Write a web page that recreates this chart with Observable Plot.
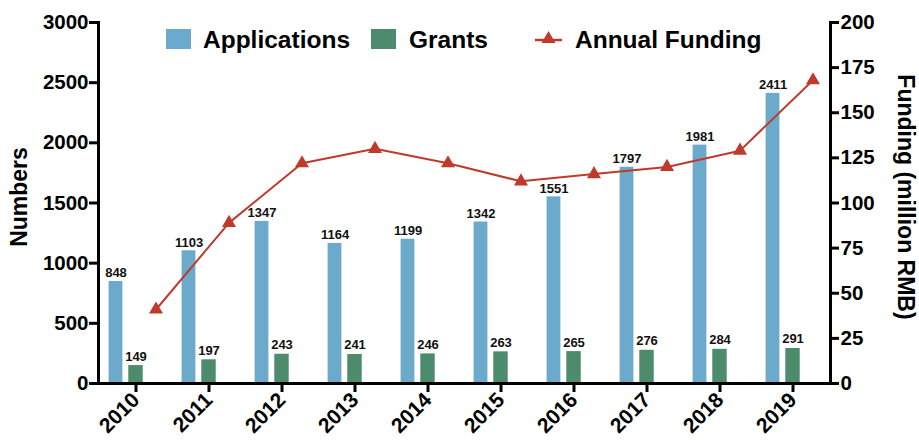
<!DOCTYPE html>
<html>
<head>
<meta charset="utf-8">
<script src="https://cdn.jsdelivr.net/npm/d3@7"></script>
<script src="https://cdn.jsdelivr.net/npm/@observablehq/plot@0.6"></script>
<style>
  html, body { margin: 0; padding: 0; background: #fff; }
  #wrap { position: relative; width: 919px; height: 440px; font-family: "Liberation Sans", Arial, sans-serif; }
  #legend { position: absolute; left: 0; top: 0; pointer-events: none; }
</style>
</head>
<body>
<div id="wrap"></div>
<script>
// ---- data ----
const years = ["2010","2011","2012","2013","2014","2015","2016","2017","2018","2019"];
const applications = [848, 1103, 1347, 1164, 1199, 1342, 1551, 1797, 1981, 2411];
const grants = [149, 197, 243, 241, 246, 263, 265, 276, 284, 291];
const funding = [41, 89, 122, 130, 122, 112, 116, 120, 129, 168]; // million RMB
const leftTicks = [0, 500, 1000, 1500, 2000, 2500, 3000];
const rightTicks = [0, 25, 50, 75, 100, 125, 150, 175, 200];
const seriesNames = ["Applications", "Grants", "Annual Funding"];

// ---- styles ----
const colApps = "#6BAACB";
const colGrants = "#4C8B6C";
const colFund = "#C03A2B";
const k = 3000 / 200; // right axis -> left axis scale factor

const rows = years.map((y, i) => ({year: y, applications: applications[i], grants: grants[i], funding: funding[i], fundingScaled: funding[i] * k}));

const chart = Plot.plot({
  width: 919,
  height: 440,
  marginLeft: 98,
  marginRight: 89,
  marginTop: 22,
  marginBottom: 57,
  style: {fontFamily: "'Liberation Sans', Arial, sans-serif", fontWeight: "bold", color: "#000", background: "#fff"},
  x: {type: "band", domain: years, padding: 0},
  y: {domain: [0, 3000]},
  marks: [
    Plot.barY(rows, {x: "year", y: "applications", fill: colApps, insetLeft: 29.6, insetRight: 29.6, dx: -20}),
    Plot.barY(rows, {x: "year", y: "grants", fill: colGrants, insetLeft: 29.3, insetRight: 29.3}),
    Plot.text(rows, {x: "year", y: "applications", text: d => String(d.applications), dx: -20, dy: -4, lineAnchor: "bottom", fontSize: 13, fontWeight: "bold", fill: "#111"}),
    Plot.text(rows, {x: "year", y: "grants", text: d => String(d.grants), dy: -5, lineAnchor: "bottom", fontSize: 13, fontWeight: "bold", fill: "#111"}),
    Plot.line(rows, {x: "year", y: "fundingScaled", stroke: colFund, strokeWidth: 2, dx: 20}),
    Plot.dot(rows, {x: "year", y: "fundingScaled", symbol: "triangle", r: 5.2, fill: colFund, stroke: "none", dx: 20}),
    Plot.ruleY([0], {strokeWidth: 3, stroke: "#000"}),
    Plot.frame({anchor: "left", strokeWidth: 3, stroke: "#000"}),
    Plot.frame({anchor: "right", strokeWidth: 3, stroke: "#000"}),
    Plot.axisY({anchor: "left", ticks: leftTicks, tickFormat: d => String(d), tickSize: 9, tickPadding: 1, fontSize: 20.5, fontWeight: "bold", strokeWidth: 3, label: null}),
    Plot.axisY({anchor: "right", ticks: rightTicks.map(v => v * k), tickFormat: d => String(Math.round(d / k)), tickSize: 8, tickPadding: 2, fontSize: 20.5, fontWeight: "bold", strokeWidth: 3, label: null}),
    Plot.axisX({anchor: "bottom", tickRotate: -45, tickSize: 9, tickPadding: 4, fontSize: 21, fontWeight: "bold", strokeWidth: 3, label: null}),
    Plot.text(["Numbers"], {frameAnchor: "left", textAnchor: "middle", dx: -79, dy: -6, rotate: -90, fontSize: 23, fontWeight: "bold", fill: "#000"}),
    Plot.text(["Funding (million RMB)"], {frameAnchor: "right", textAnchor: "middle", dx: 75, dy: -6, rotate: 90, fontSize: 23, fontWeight: "bold", fill: "#000"})
  ]
});

const wrap = document.getElementById("wrap");
wrap.appendChild(chart);

// ---- legend (overlay) ----
const ns = "http://www.w3.org/2000/svg";
const leg = document.createElementNS(ns, "svg");
leg.setAttribute("id", "legend");
leg.setAttribute("width", 919);
leg.setAttribute("height", 60);
leg.innerHTML = `
  <g font-family="'Liberation Sans', Arial, sans-serif" font-weight="bold" font-size="24.5" fill="#000">
    <rect x="166" y="29" width="25" height="20" fill="${colApps}"/>
    <text x="203" y="48">${seriesNames[0]}</text>
    <rect x="371" y="29" width="25" height="20" fill="${colGrants}"/>
    <text x="409" y="48">${seriesNames[1]}</text>
    <line x1="535" y1="40" x2="562" y2="40" stroke="${colFund}" stroke-width="2.5"/>
    <path transform="translate(548.5,39)" d="${d3.symbol(d3.symbolTriangle, Math.PI * 5.2 * 5.2)()}" fill="${colFund}"/>
    <text x="575" y="48">${seriesNames[2]}</text>
  </g>`;
wrap.appendChild(leg);
</script>
</body>
</html>
